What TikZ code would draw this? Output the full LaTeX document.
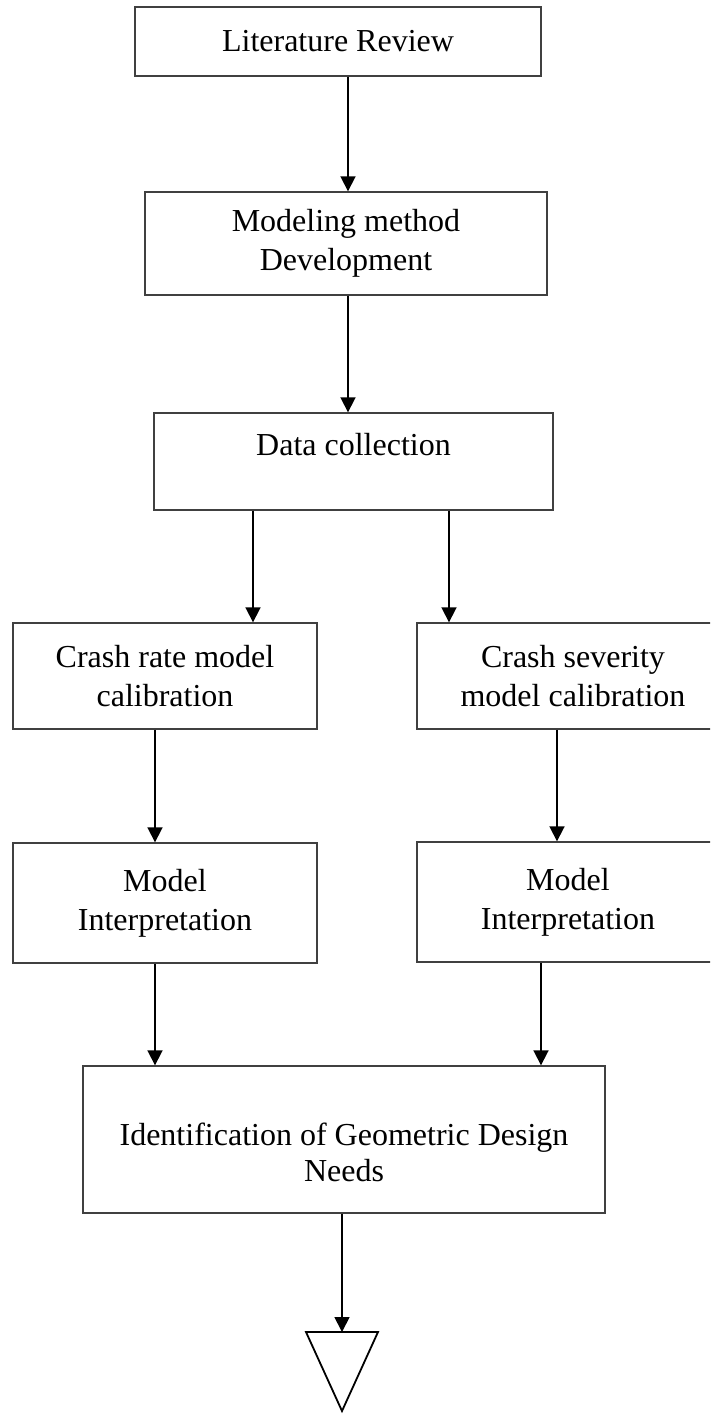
\documentclass[tikz,border=0pt]{standalone}
\usepackage{fontspec}
\setmainfont{Liberation Serif}
\usetikzlibrary{arrows.meta}
\begin{document}
\begin{tikzpicture}[x=1pt,y=-1pt,
  box/.style={draw=black!75, line width=1.4pt, rectangle, align=center, inner sep=0pt,
    font=\fontsize{32}{39}\selectfont},
  arr/.style={draw=black, line width=1.8pt, -{Triangle[width=15pt,length=15pt]}}]
\useasboundingbox (0,0) rectangle (710,1414);
\begin{scope}
\clip (0,0) rectangle (710,1414);
\node[box, minimum width=406pt, minimum height=69pt] (b1) at (338,41.5) {Literature Review};
\node[box, minimum width=402pt, minimum height=103pt] (b2) at (346,243.5) {Modeling method\\Development};
\node[box, minimum width=399pt, minimum height=97pt] (b3) at (353.5,461.5) {Data collection\\[-16pt]\strut};
\node[box, minimum width=304pt, minimum height=106pt] (b4) at (165,676) {Crash rate model\\calibration};
\node[box, minimum width=312pt, minimum height=106pt] (b5) at (573,676) {Crash severity\\model calibration};
\node[box, minimum width=304pt, minimum height=120pt] (b6) at (165,903) {Model\\Interpretation};
\node[box, minimum width=302pt, minimum height=120pt] (b7) at (568,902) {Model\\Interpretation};
\node[box, minimum width=522pt, minimum height=147pt] (b8) at (344,1139.5) {};
\node[font=\fontsize{32}{36}\selectfont, align=center, anchor=center] (t8) at (344,1152) {Identification of Geometric Design\\Needs};
\end{scope}
\coordinate (endtop) at (342,1332);
\draw[line width=1.8pt, line join=miter] (306,1332) -- (378,1332) -- (342,1411) -- cycle;
\draw[arr] (348,0 |- b1.south) -- (348,0 |- b2.north);
\draw[arr] (348,0 |- b2.south) -- (348,0 |- b3.north);
\draw[arr] (253,0 |- b3.south) -- (253,0 |- b4.north);
\draw[arr] (449,0 |- b3.south) -- (449,0 |- b5.north);
\draw[arr] (155,0 |- b4.south) -- (155,0 |- b6.north);
\draw[arr] (557,0 |- b5.south) -- (557,0 |- b7.north);
\draw[arr] (155,0 |- b6.south) -- (155,0 |- b8.north);
\draw[arr] (541,0 |- b7.south) -- (541,0 |- b8.north);
\draw[arr] (342,0 |- b8.south) -- (endtop);
\end{tikzpicture}
\end{document}
